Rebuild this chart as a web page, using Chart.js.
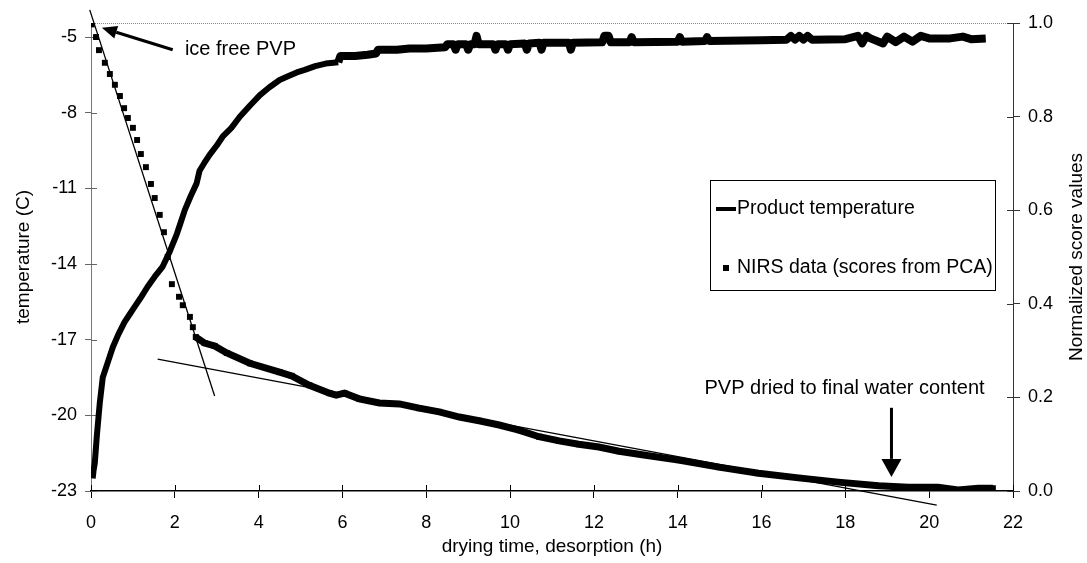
<!DOCTYPE html>
<html>
<head>
<meta charset="utf-8">
<script src="https://cdn.jsdelivr.net/npm/chart.js@4.4.0/dist/chart.umd.min.js"></script>
<style>
  html, body { margin: 0; padding: 0; background: #fff; }
  #wrap { width: 1087px; height: 563px; }
</style>
</head>
<body>
<div id="wrap"><canvas id="drying_chart" width="1087" height="563"></canvas></div>
<script>
// product temperature (C) over drying time (h)
var tempTime = [0.04, 0.06, 0.09, 0.14, 0.21, 0.28, 0.40, 0.52, 0.65, 0.80, 0.92, 1.04, 1.20, 1.35, 1.52, 1.71, 1.88, 2.05, 2.15, 2.24,
  2.38, 2.52, 2.59, 2.70, 2.83, 3.00, 3.14, 3.35, 3.55, 3.80, 4.03, 4.25, 4.50, 4.70, 4.91, 5.10, 5.35, 5.60, 5.90, 5.95,
  6.30, 6.60, 6.80, 6.85, 7.30, 7.60, 8.00, 8.45, 8.50, 8.65, 8.70, 8.75, 8.95, 9.00, 9.05, 9.15, 9.20, 9.25, 9.60, 9.65,
  9.70, 9.90, 9.95, 10.00, 10.35, 10.40, 10.45, 10.70, 10.75, 10.80, 11.40, 11.45, 11.50, 12.20, 12.25, 12.35, 12.40, 12.85, 12.90, 12.95,
  14.00, 14.05, 14.10, 14.65, 14.70, 14.75, 16.00, 16.60, 16.70, 16.80, 16.90, 17.00, 17.10, 17.20, 18.00, 18.30, 18.40, 18.50, 18.60, 18.90,
  19.00, 19.20, 19.40, 19.60, 19.80, 20.00, 20.50, 20.80, 21.00, 21.35];
var tempValue = [-22.5, -22.2, -21.9, -20.8, -19.5, -18.5, -17.9, -17.3, -16.8, -16.3, -16.0, -15.7, -15.3, -14.9, -14.5, -14.1, -13.5, -12.8, -12.3, -11.85,
  -11.3, -10.8, -10.3, -10.0, -9.67, -9.3, -8.95, -8.6, -8.16, -7.7, -7.3, -7.0, -6.7, -6.55, -6.4, -6.3, -6.15, -6.05, -6.0, -5.75,
  -5.75, -5.7, -5.65, -5.5, -5.5, -5.45, -5.45, -5.4, -5.28, -5.28, -5.5, -5.28, -5.28, -5.5, -5.28, -5.28, -4.95, -5.28, -5.28, -5.5,
  -5.28, -5.28, -5.5, -5.28, -5.25, -5.5, -5.25, -5.22, -5.5, -5.22, -5.22, -5.5, -5.22, -5.2, -4.95, -4.95, -5.2, -5.2, -5.0, -5.2,
  -5.18, -5.0, -5.18, -5.15, -5.0, -5.15, -5.12, -5.1, -4.95, -5.1, -4.95, -5.1, -4.95, -5.1, -5.08, -4.95, -5.25, -4.95, -5.05, -5.25,
  -4.98, -5.2, -4.98, -5.18, -4.95, -5.05, -5.05, -4.98, -5.08, -5.05];

// NIRS data, normalized PCA scores
var nirsTime = [0.02, 0.12, 0.19, 0.33, 0.45, 0.57, 0.69, 0.79, 0.88, 1.00, 1.10, 1.19, 1.31, 1.43, 1.52, 1.64, 1.74, 1.83, 1.93, 2.10,
  2.19, 2.36, 2.43, 2.50, 2.71, 2.95, 3.24, 3.79, 4.50, 4.79, 5.21, 5.69, 5.85, 6.05, 6.40, 6.88, 7.36, 7.83, 8.31, 8.79,
  9.26, 9.74, 10.21, 10.69, 11.17, 11.64, 12.12, 12.60, 13.19, 14.02, 14.98, 15.93, 16.88, 17.83, 18.79, 19.50, 20.21, 20.69, 21.17, 21.52];
var nirsScore = [0.997, 0.970, 0.942, 0.915, 0.891, 0.868, 0.844, 0.818, 0.797, 0.776, 0.750, 0.720, 0.692, 0.656, 0.626, 0.590, 0.553, 0.500, 0.442, 0.415,
  0.397, 0.372, 0.350, 0.329, 0.316, 0.310, 0.295, 0.273, 0.254, 0.246, 0.226, 0.209, 0.205, 0.209, 0.197, 0.188, 0.186, 0.177, 0.169, 0.158,
  0.150, 0.141, 0.130, 0.116, 0.107, 0.100, 0.094, 0.085, 0.077, 0.066, 0.051, 0.038, 0.028, 0.019, 0.011, 0.008, 0.008, 0.002, 0.006, 0.006];

// the two straight lines over the scores
var fit1Time = [-0.03, 2.95];
var fit1Score = [1.028, 0.203];
var fit2Time = [1.59, 20.18];
var fit2Score = [0.282, -0.030];

var tempTicks = [-23, -20, -17, -14, -11, -8, -5];

var FONT = "'Liberation Sans', Arial, Helvetica, sans-serif";

function pairs(xs, ys) {
  return xs.map(function (x, i) { return {x: x, y: ys[i]}; });
}

function arrow(ctx, x0, y0, x1, y1, headLen, headWidth) {
  var ang = Math.atan2(y1 - y0, x1 - x0);
  var bx = x1 - headLen * Math.cos(ang), by = y1 - headLen * Math.sin(ang);
  ctx.beginPath();
  ctx.moveTo(x0, y0);
  ctx.lineTo(bx, by);
  ctx.stroke();
  ctx.beginPath();
  ctx.moveTo(x1, y1);
  ctx.lineTo(bx + headWidth / 2 * Math.sin(ang), by - headWidth / 2 * Math.cos(ang));
  ctx.lineTo(bx - headWidth / 2 * Math.sin(ang), by + headWidth / 2 * Math.cos(ang));
  ctx.closePath();
  ctx.fill();
}

var framePlugin = {
  id: 'frame',
  beforeDatasetsDraw: function (chart) {
    var ctx = chart.ctx, a = chart.chartArea;
    var sx = chart.scales.x, sy = chart.scales.y, sy1 = chart.scales.y1;
    ctx.save();
    // dotted top border
    ctx.strokeStyle = '#888';
    ctx.lineWidth = 1;
    ctx.setLineDash([1, 1]);
    ctx.beginPath();
    ctx.moveTo(a.left, a.top + 0.5);
    ctx.lineTo(a.right, a.top + 0.5);
    ctx.stroke();
    ctx.setLineDash([]);
    // inner halves of the tick marks
    ctx.strokeStyle = '#000';
    sx.ticks.forEach(function (t) {
      var px = Math.round(sx.getPixelForValue(t.value)) + 0.5;
      ctx.beginPath(); ctx.moveTo(px, a.bottom); ctx.lineTo(px, a.bottom - 6); ctx.stroke();
    });
    ctx.strokeStyle = '#666';
    sy.ticks.forEach(function (t) {
      var py = Math.round(sy.getPixelForValue(t.value)) + 0.5;
      ctx.beginPath(); ctx.moveTo(a.left, py); ctx.lineTo(a.left + 6, py); ctx.stroke();
    });
    ctx.strokeStyle = '#333';
    sy1.ticks.forEach(function (t) {
      var py = Math.round(sy1.getPixelForValue(t.value)) + 0.5;
      ctx.beginPath(); ctx.moveTo(a.right, py); ctx.lineTo(a.right - 6, py); ctx.stroke();
    });
    ctx.restore();
  },
  afterDraw: function (chart) {
    var ctx = chart.ctx, a = chart.chartArea;
    var sx = chart.scales.x, sy = chart.scales.y;
    ctx.save();
    ctx.fillStyle = '#000';
    ctx.strokeStyle = '#000';

    // right axis title, reading bottom to top
    ctx.save();
    ctx.translate(1077, (a.top + a.bottom) / 2);
    ctx.rotate(-Math.PI / 2);
    ctx.font = '19px ' + FONT;
    ctx.textAlign = 'center';
    ctx.textBaseline = 'middle';
    ctx.fillText('Normalized score values', 0, 0);
    ctx.restore();

    // annotations
    ctx.font = '20px ' + FONT;
    ctx.textBaseline = 'middle';
    ctx.textAlign = 'left';
    ctx.fillText('ice free PVP', sx.getPixelForValue(2.24), sy.getPixelForValue(-5.5));
    ctx.lineWidth = 3;
    arrow(ctx, sx.getPixelForValue(1.95), sy.getPixelForValue(-5.5),
      sx.getPixelForValue(0.26), sy.getPixelForValue(-4.63), 15, 13);

    ctx.textAlign = 'center';
    ctx.fillText('PVP dried to final water content', sx.getPixelForValue(17.98), sy.getPixelForValue(-18.95));
    arrow(ctx, sx.getPixelForValue(19.1), sy.getPixelForValue(-19.7),
      sx.getPixelForValue(19.1), sy.getPixelForValue(-22.44), 18, 20);

    // legend box
    var ds = chart.data.datasets;
    ctx.lineWidth = 1;
    ctx.fillStyle = '#fff';
    ctx.fillRect(710, 180, 285, 110);
    ctx.strokeRect(710.5, 180.5, 285, 110);
    ctx.fillStyle = '#000';
    ctx.lineWidth = 4;
    ctx.beginPath(); ctx.moveTo(716, 209); ctx.lineTo(736, 209); ctx.stroke();
    ctx.fillRect(723, 265, 6, 6);
    ctx.font = '19.5px ' + FONT;
    ctx.textAlign = 'left';
    ctx.fillText(ds[0].label, 737, 209);
    ctx.fillText(ds[1].label, 737, 268);
    ctx.restore();
  }
};

var tickFont = { family: FONT, size: 18 };
var titleFont = { family: FONT, size: 19 };

var dryingChart = new Chart(document.getElementById('drying_chart'), {
  type: 'line',
  data: {
    datasets: [{
      label: 'Product temperature',
      data: pairs(tempTime, tempValue),
      yAxisID: 'y',
      borderColor: '#000',
      borderWidth: 6,
      borderJoinStyle: 'round',
      segment: {
        borderWidth: function (c) { return c.p0.parsed.x >= 5.9 ? 8 : 6; }
      },
      pointRadius: 0,
      tension: 0
    }, {
      label: 'NIRS data (scores from PCA)',
      data: pairs(nirsTime, nirsScore),
      yAxisID: 'y1',
      borderWidth: 7,
      borderColor: '#000',
      segment: {
        borderColor: function (c) { return c.p0.parsed.x >= 2.5 ? '#000' : 'rgba(0,0,0,0)'; }
      },
      pointStyle: 'rect',
      pointRadius: 4.2,
      pointBackgroundColor: '#000',
      pointBorderWidth: 0,
      tension: 0
    }, {
      label: '',
      data: pairs(fit1Time, fit1Score),
      yAxisID: 'y1',
      borderColor: '#000',
      borderWidth: 1.3,
      pointRadius: 0,
      clip: false
    }, {
      label: '',
      data: pairs(fit2Time, fit2Score),
      yAxisID: 'y1',
      borderColor: '#000',
      borderWidth: 1.3,
      pointRadius: 0,
      clip: false
    }]
  },
  options: {
    responsive: false,
    animation: false,
    layout: { padding: { top: 23, left: 0, right: 0, bottom: 0 } },
    plugins: {
      legend: { display: false },
      tooltip: { enabled: false }
    },
    scales: {
      x: {
        type: 'linear',
        min: 0,
        max: 22,
        afterFit: function (s) { s.height = 72; },
        ticks: { stepSize: 2, autoSkip: false, maxRotation: 0, font: tickFont, color: '#000', padding: 14 },
        grid: { drawOnChartArea: false, tickLength: 7, color: '#000' },
        border: { color: '#000', width: 1.5 },
        title: { display: true, text: 'drying time, desorption (h)', font: titleFont, color: '#000', padding: { top: 0, bottom: 5 } }
      },
      y: {
        position: 'left',
        min: -23,
        max: -4.44,
        afterFit: function (s) { s.width = 91; },
        afterBuildTicks: function (s) { s.ticks = tempTicks.map(function (v) { return {value: v}; }); },
        ticks: { font: tickFont, color: '#000', padding: 8 },
        grid: { drawOnChartArea: false, tickLength: 6, color: '#666' },
        border: { color: '#777', width: 1, dash: [1, 1] },
        title: { display: true, text: 'temperature (C)', font: titleFont, color: '#000', padding: { top: 12, bottom: 0 } }
      },
      y1: {
        position: 'right',
        min: 0,
        max: 1,
        afterFit: function (s) { s.width = 74; },
        ticks: {
          stepSize: 0.2, font: tickFont, color: '#000', padding: 8,
          callback: function (v) { return v.toFixed(1); }
        },
        grid: { drawOnChartArea: false, tickLength: 7, color: '#333' },
        border: { color: '#333', width: 1, dash: [2, 1] }
      }
    }
  },
  plugins: [framePlugin]
});
</script>
</body>
</html>
